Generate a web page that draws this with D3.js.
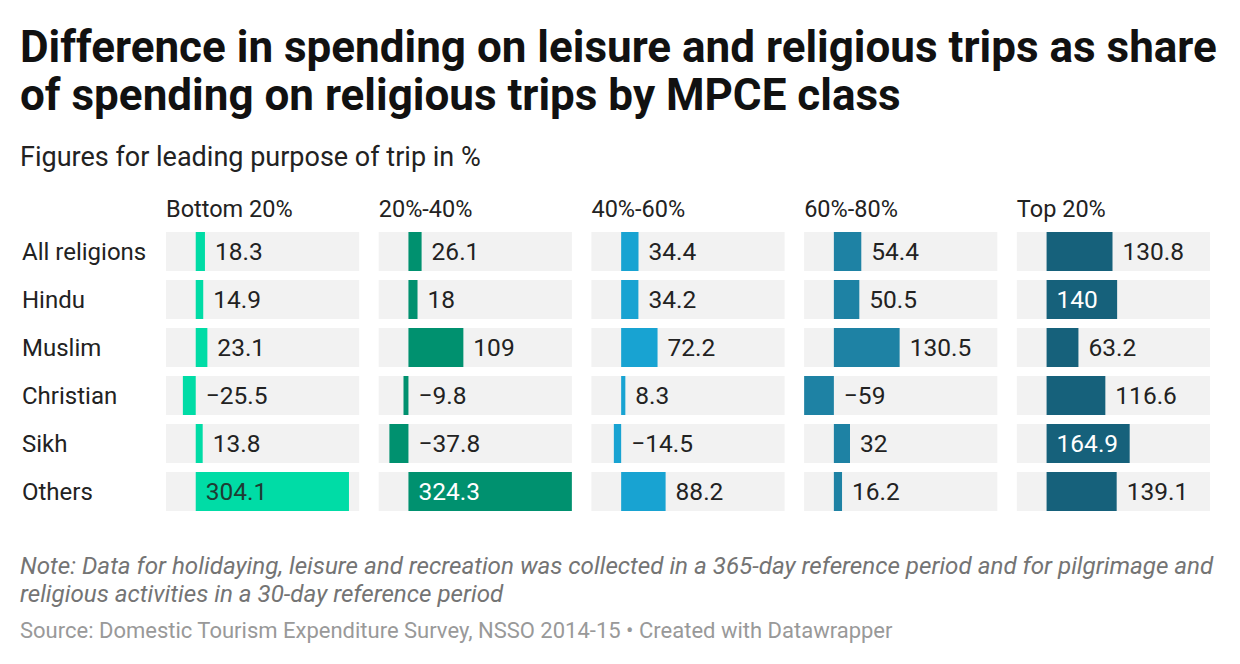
<!DOCTYPE html>
<html>
<head>
<meta charset="utf-8">
<script src="https://cdn.jsdelivr.net/npm/d3@7"></script>
<style>
  body { margin: 0; background: #fff; }
  svg text { font-family: Roboto, "Noto Sans", sans-serif; }
</style>
</head>
<body>
<div id="chart"></div>
<script>
// data
const religions = ["All religions", "Hindu", "Muslim", "Christian", "Sikh", "Others"]
const classes = ["Bottom 20%", "20%-40%", "40%-60%", "60%-80%", "Top 20%"]
const bottom20 = [18.3, 14.9, 23.1, -25.5, 13.8, 304.1]
const p20to40 = [26.1, 18, 109, -9.8, -37.8, 324.3]
const p40to60 = [34.4, 34.2, 72.2, 8.3, -14.5, 88.2]
const p60to80 = [54.4, 50.5, 130.5, -59, 32, 16.2]
const top20 = [130.8, 140, 63.2, 116.6, 164.9, 139.1]
const colors = ["#00dca6", "#00916f", "#18a3d2", "#1e82a4", "#16617b"]

const series = [bottom20, p20to40, p40to60, p60to80, top20]

const width = 1240, height = 664
const svg = d3.select("#chart").append("svg")
    .attr("width", width)
    .attr("height", height)

// header
const title = svg.append("text")
    .style("font-size", "44px").style("font-weight", 700).style("fill", "#111")
title.append("tspan").attr("x", 20).attr("y", 62)
    .text("Difference in spending on leisure and religious trips as share")
title.append("tspan").attr("x", 20).attr("y", 110)
    .text("of spending on religious trips by MPCE class")

svg.append("text")
    .attr("x", 20).attr("y", 166)
    .style("font-size", "27px").style("fill", "#222")
    .text("Figures for leading purpose of trip in %")

// scales
const colScale = d3.scaleBand().domain(classes).range([166, 1210]).paddingInner(0.092)
const rowScale = d3.scaleBand().domain(religions).range([232, 511]).paddingInner(0.1875)
const allVals = series.flat()
const xScale = d3.scaleLinear()
    .domain([d3.min(allVals), d3.max(allVals)])
    .range([0, colScale.bandwidth()])

// row labels
svg.append("g").selectAll("text")
    .data(religions)
    .enter().append("text")
    .attr("x", 22)
    .attr("y", d => rowScale(d) + rowScale.bandwidth() / 2 + 8.5)
    .style("font-size", "24px").style("fill", "#222")
    .text(d => d)

const fmt = v => v < 0 ? "\u2212" + Math.abs(v) : String(v)

classes.forEach((c, ci) => {
    const g = svg.append("g").attr("transform", "translate(" + colScale(c) + ",0)")
    g.append("text")
        .attr("x", 0).attr("y", 217)
        .style("font-size", "23.5px").style("fill", "#222")
        .text(c)

    const rows = religions.map((r, i) => ({ religion: r, value: series[ci][i] }))

    g.selectAll(".bg").data(rows).enter().append("rect")
        .attr("class", "bg")
        .attr("x", 0)
        .attr("y", d => rowScale(d.religion))
        .attr("width", colScale.bandwidth())
        .attr("height", rowScale.bandwidth())
        .style("fill", "#f2f2f2")

    g.selectAll(".bar").data(rows).enter().append("rect")
        .attr("class", "bar")
        .attr("x", d => xScale(Math.min(0, d.value)))
        .attr("y", d => rowScale(d.religion))
        .attr("width", d => Math.abs(xScale(d.value) - xScale(0)))
        .attr("height", rowScale.bandwidth())
        .style("fill", colors[ci])

    // labels: inside the bar for the long ones, right of zero for negatives
    g.selectAll(".lbl").data(rows).enter().append("text")
        .attr("class", "lbl")
        .attr("x", d => {
            if (d.value >= 140 || d.value < 0) return xScale(0) + 10
            return xScale(d.value) + 10
        })
        .attr("y", d => rowScale(d.religion) + rowScale.bandwidth() / 2 + 8.5)
        .style("font-size", "24.5px")
        .style("fill", d => d.value >= 140 ? (ci == 0 ? "#1f3b33" : "#fff") : "#222")
        .text(d => fmt(d.value))
})

// footer
const note = svg.append("text")
    .style("font-size", "24.2px").style("font-style", "italic").style("fill", "#747474")
note.append("tspan").attr("x", 20).attr("y", 574)
    .text("Note: Data for holidaying, leisure and recreation was collected in a 365-day reference period and for pilgrimage and")
note.append("tspan").attr("x", 20).attr("y", 602)
    .text("religious activities in a 30-day reference period")

svg.append("text")
    .attr("x", 20).attr("y", 638)
    .style("font-size", "22px").style("fill", "#999")
    .text("Source: Domestic Tourism Expenditure Survey, NSSO 2014-15 \u2022 Created with Datawrapper")
</script>
</body>
</html>
